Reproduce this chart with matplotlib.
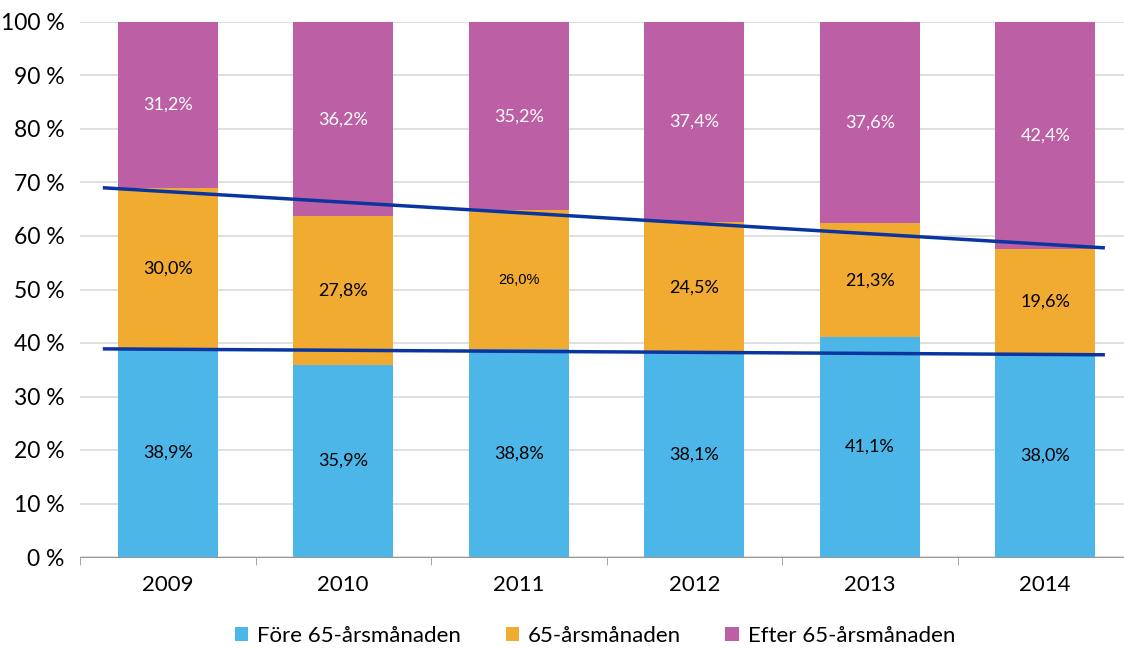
import matplotlib.pyplot as plt
from matplotlib.ticker import FixedLocator

years = ['2009', '2010', '2011', '2012', '2013', '2014']
fore = [38.9, 35.9, 38.8, 38.1, 41.1, 38.0]
vid65 = [30.0, 27.8, 26.0, 24.5, 21.3, 19.6]
efter = [31.2, 36.2, 35.2, 37.4, 37.6, 42.4]

# trend lines (start, end)
trend_x = [-0.36, 5.33]
trend_low = [38.9, 37.8]
trend_high = [69.0, 57.8]

blue = '#4DB6E8'
orange = '#F2AB31'
purple = '#BC5FA5'
line_col = '#0A35A0'

plt.rcParams['font.family'] = ['Lato', 'DejaVu Sans']

fig = plt.figure(figsize=(11.24, 6.48), dpi=100)
ax = fig.add_axes([80 / 1124, 91 / 648, 1044 / 1124, 535 / 648])

x = range(len(years))
w = 0.57
bottom2 = [a + b for a, b in zip(fore, vid65)]
# rounded shares don't always add to 100, the top segment fills the rest
rest = [100 - b for b in bottom2]
ax.bar(x, fore, w, color=blue, label='Före 65-årsmånaden', zorder=2)
ax.bar(x, vid65, w, bottom=fore, color=orange, label='65-årsmånaden', zorder=2)
ax.bar(x, rest, w, bottom=bottom2, color=purple, label='Efter 65-årsmånaden', zorder=2)

for i in x:
    ax.text(i, fore[i] / 2, f'{fore[i]:.1f}%'.replace('.', ','),
            ha='center', va='center', fontsize=13, color='black', zorder=4)
    lbl = f'{vid65[i]:.1f}%'.replace('.', ',')
    if years[i] == '2011':
        ax.text(i, fore[i] + vid65[i] / 2, lbl, ha='center', va='center',
                fontsize=10.5, family='Liberation Sans', color='black', zorder=4)
    else:
        ax.text(i, fore[i] + vid65[i] / 2, lbl, ha='center', va='center',
                fontsize=13, color='black', zorder=4)
    ax.text(i, bottom2[i] + efter[i] / 2, f'{efter[i]:.1f}%'.replace('.', ','),
            ha='center', va='center', fontsize=13, color='white', zorder=4)

ax.plot(trend_x, trend_low, color=line_col, lw=2.5, zorder=3)
ax.plot(trend_x, trend_high, color=line_col, lw=2.5, zorder=3)

ax.set_xlim(-0.5, (1124 - 80) / 175.5 - 0.5)
ax.set_ylim(0, 100)
ax.set_yticks(range(0, 101, 10))
ax.set_yticklabels([f'{v} %' for v in range(0, 101, 10)], fontsize=16.5)
ax.tick_params(axis='y', length=0, pad=11)
ax.grid(axis='y', color='#D9D9D9', lw=1.2, zorder=0)

ax.set_xticks(list(x))
ax.set_xticklabels(years, fontsize=16)
ax.xaxis.set_minor_locator(FixedLocator([i - 0.5 for i in range(len(years))]))
ax.tick_params(axis='x', which='major', length=0, pad=13)
ax.tick_params(axis='x', which='minor', length=6, color='#999999')

for s in ['left', 'right', 'top']:
    ax.spines[s].set_visible(False)
ax.spines['bottom'].set_color('#999999')

fig.legend(loc='center', bbox_to_anchor=(595 / 1124, 1 - 636 / 648), ncol=3,
           frameon=False, fontsize=16, handlelength=0.6, handleheight=0.6,
           handletextpad=0.4, columnspacing=2.0)

fig.savefig('out.png', dpi=100)
